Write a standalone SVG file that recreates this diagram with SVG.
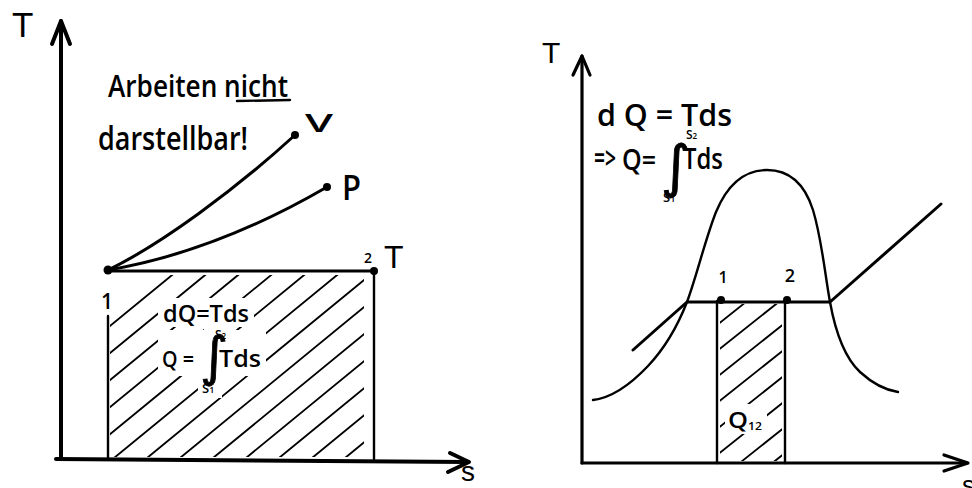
<svg xmlns="http://www.w3.org/2000/svg" width="972" height="488" viewBox="0 0 972 488">
<style>
.ax{fill:none;stroke:#000;stroke-width:4;stroke-linecap:round;stroke-linejoin:round}
.ax2{fill:none;stroke:#000;stroke-width:3.2;stroke-linecap:round;stroke-linejoin:round}
.ln{fill:none;stroke:#000;stroke-width:3;stroke-linecap:round;stroke-linejoin:round}
.thin{fill:none;stroke:#000;stroke-width:2.4;stroke-linecap:round}
.h{fill:none;stroke:#000;stroke-width:1.8;stroke-linecap:round}
.dot{fill:#000}
.t{font-family:"Open Sans","Liberation Sans",sans-serif;font-weight:600;fill:#000}
.tl{font-family:"Liberation Sans","Open Sans",sans-serif;font-weight:400;fill:#000}
.int{font-family:"DejaVu Sans",sans-serif;font-weight:400;fill:#000;stroke:#000;stroke-width:0.8}
</style>
<defs>
<mask id="mL" maskUnits="userSpaceOnUse" x="0" y="0" width="972" height="488">
<rect x="110" y="275" width="254" height="182" fill="#fff"/>
<rect x="158" y="298" width="96" height="29" fill="#000"/>
<rect x="158" y="330" width="108" height="46" fill="#000"/>
<rect x="204" y="326" width="28" height="8" fill="#000"/>
<rect x="198" y="376" width="24" height="22" fill="#000"/>
</mask>
<mask id="mR" maskUnits="userSpaceOnUse" x="0" y="0" width="972" height="488">
<rect x="720" y="304" width="62" height="157" fill="#fff"/>
<rect x="725" y="404" width="42" height="30" fill="#000"/>
</mask>
</defs>
<rect width="972" height="488" fill="#fff"/>

<g id="left-diagram">
<g id="left-axes">
<path class="ax" d="M61,459 L61,21"/>
<path class="ax" d="M52,44 L61,21 L70,44"/>
<path class="ax" d="M56,459 L468,462"/>
<path class="ax" d="M450,453 L469,462 L448,472"/>
<text class="tl" x="12" y="37" font-size="35">T</text>
<text class="tl" x="461" y="481" font-size="28">s</text>
</g>
<g id="left-curves">
<path class="ln" d="M108,270 C160,245 235,190 295,135"/>
<path class="ln" d="M108,270 Q215,252 327,187"/>
<path class="ln" d="M108,271 L374,271"/>
<path class="thin" d="M108,316 L108,459"/>
<path class="thin" d="M374,271 L374,459"/>
</g>
<g id="left-hatch" mask="url(#mL)">
<path class="h" d="M-62,467 L188,262 M-29,467 L221,262 M4,467 L254,262 M37,467 L287,262 M70,467 L320,262 M103,467 L353,262 M136,467 L386,262 M169,467 L419,262 M202,467 L452,262 M235,467 L485,262 M268,467 L518,262 M301,467 L551,262 M334,467 L584,262"/>
</g>
<g id="point-1-left">
<circle class="dot" cx="108" cy="270" r="4.5"/>
<text class="t" x="107" y="309" font-size="21" text-anchor="middle">1</text>
</g>
<g id="point-2-left">
<circle class="dot" cx="374" cy="271" r="4"/>
<text class="t" x="368" y="263" font-size="14" text-anchor="middle">2</text>
<text class="tl" x="384" y="268" font-size="32">T</text>
</g>
<g id="label-V">
<circle class="dot" cx="295" cy="135" r="4"/>
<text class="t" x="305" y="132" font-size="26" textLength="28" lengthAdjust="spacingAndGlyphs">V</text>
</g>
<g id="label-P">
<circle class="dot" cx="327" cy="187" r="4"/>
<text class="t" x="342" y="200" font-size="34" textLength="19" lengthAdjust="spacingAndGlyphs">P</text>
</g>
<g id="note-left">
<text class="t" x="108" y="97" font-size="30" textLength="180" lengthAdjust="spacingAndGlyphs">Arbeiten nicht</text>
<path class="thin" d="M237,101 L290,100"/>
<text class="t" x="98" y="150" font-size="33" textLength="150" lengthAdjust="spacingAndGlyphs">darstellbar!</text>
</g>
<g id="formula-left">
<text class="t" x="163" y="322" font-size="24" textLength="86" lengthAdjust="spacingAndGlyphs">dQ=Tds</text>
<text class="t" x="162" y="367" font-size="22" textLength="32" lengthAdjust="spacingAndGlyphs">Q =</text>
<text class="int" x="200" y="375" font-size="54">∫</text>
<text class="t" x="219" y="367" font-size="23" textLength="42" lengthAdjust="spacingAndGlyphs">Tds</text>
<text class="t" x="215" y="339" font-size="12">S<tspan font-size="8">2</tspan></text>
<text class="t" x="202" y="393" font-size="13">S<tspan font-size="9">1</tspan></text>
</g>
</g>

<g id="right-diagram">
<g id="right-axes">
<path class="ax2" d="M582,463 L582,56"/>
<path class="ax2" d="M573,75 L582,56 L590,75"/>
<path class="ax2" d="M582,463 L967,463"/>
<path class="ax2" d="M944,455 L968,463 L944,471"/>
<text class="tl" x="542" y="63" font-size="30">T</text>
<text class="tl" x="962" y="494" font-size="26">s</text>
</g>
<g id="dome">
<path class="thin" d="M593,400 C610,398 630,385 648,366 C665,348 678,325 687,302 C697,275 705,240 716,212 C728,183 745,170 767,170 C790,170 805,185 813,210 C822,240 825,275 830,302 C836,335 845,358 860,372 C872,383 885,390 898,392"/>
</g>
<g id="isobar">
<path class="ln" d="M633,350 L687,302 L830,302 L941,204"/>
</g>
<g id="area-Q12">
<path class="thin" d="M717,301 L717,463"/>
<path class="thin" d="M785,300 L785,463"/>
<g mask="url(#mR)">
<path class="h" d="M707,333 L795,263 M707,359 L795,289 M707,385 L795,315 M707,411 L795,341 M707,437 L795,367 M707,463 L795,393 M707,489 L795,419 M707,515 L795,445 M707,541 L795,471"/>
</g>
<text class="t" x="728" y="428" font-size="21" textLength="20" lengthAdjust="spacingAndGlyphs">Q</text>
<text class="t" x="748" y="430" font-size="11" textLength="14" lengthAdjust="spacingAndGlyphs">12</text>
</g>
<g id="point-1-right">
<circle class="dot" cx="721" cy="300" r="4"/>
<text class="t" x="723" y="283" font-size="16" text-anchor="middle">1</text>
</g>
<g id="point-2-right">
<circle class="dot" cx="787" cy="300" r="4"/>
<text class="t" x="790" y="282" font-size="18" text-anchor="middle">2</text>
</g>
<g id="formula-right">
<text class="t" x="597" y="126" font-size="30" textLength="135" lengthAdjust="spacingAndGlyphs">d Q = Tds</text>
<text class="t" x="594" y="169" font-size="30" textLength="22" lengthAdjust="spacingAndGlyphs">=&gt;</text>
<text class="t" x="622" y="170" font-size="28" textLength="34" lengthAdjust="spacingAndGlyphs">Q=</text>
<text class="int" x="661" y="186" font-size="57">∫</text>
<text class="t" x="683" y="169" font-size="29" textLength="40" lengthAdjust="spacingAndGlyphs">Tds</text>
<text class="t" x="686" y="139" font-size="12">S<tspan font-size="8">2</tspan></text>
<text class="t" x="663" y="202" font-size="13">S<tspan font-size="9">1</tspan></text>
</g>
</g>
</svg>
